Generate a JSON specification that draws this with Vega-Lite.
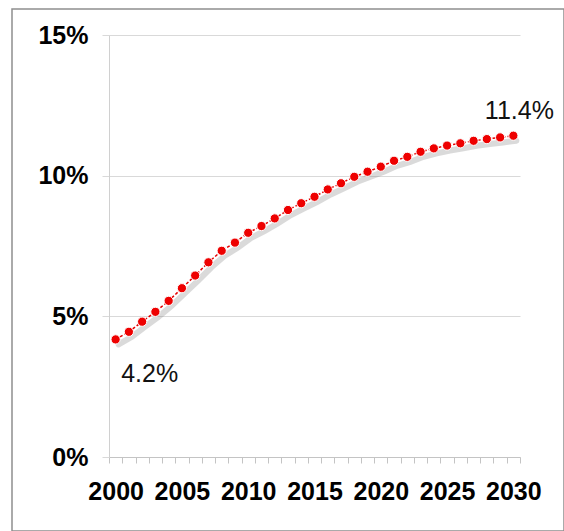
{
  "$schema": "https://vega.github.io/schema/vega-lite/v6.json",
  "width": 552,
  "height": 522,
  "autosize": {"type": "none"},
  "padding": {"left": 12, "top": 9, "right": 0, "bottom": 0},
  "background": "white",
  "config": {
    "view": {"stroke": "#8f8f8f", "strokeWidth": 1.5},
    "font": "Liberation Sans"
  },
  "data": {
    "values": [
      {"year": 2000, "value": 0.0418},
      {"year": 2001, "value": 0.0445},
      {"year": 2002, "value": 0.0481},
      {"year": 2003, "value": 0.0516},
      {"year": 2004, "value": 0.0555},
      {"year": 2005, "value": 0.0600},
      {"year": 2006, "value": 0.0645},
      {"year": 2007, "value": 0.0692},
      {"year": 2008, "value": 0.0733},
      {"year": 2009, "value": 0.0762},
      {"year": 2010, "value": 0.0797},
      {"year": 2011, "value": 0.0821},
      {"year": 2012, "value": 0.0848},
      {"year": 2013, "value": 0.0878},
      {"year": 2014, "value": 0.0902},
      {"year": 2015, "value": 0.0925},
      {"year": 2016, "value": 0.0951},
      {"year": 2017, "value": 0.0973},
      {"year": 2018, "value": 0.0996},
      {"year": 2019, "value": 0.1014},
      {"year": 2020, "value": 0.1032},
      {"year": 2021, "value": 0.1053},
      {"year": 2022, "value": 0.1067},
      {"year": 2023, "value": 0.1085},
      {"year": 2024, "value": 0.1097},
      {"year": 2025, "value": 0.1107},
      {"year": 2026, "value": 0.1115},
      {"year": 2027, "value": 0.1124},
      {"year": 2028, "value": 0.1130},
      {"year": 2029, "value": 0.1136},
      {"year": 2030, "value": 0.1142}
    ]
  },
  "encoding": {
    "x": {
      "field": "year",
      "type": "quantitative",
      "scale": {"domain": [1999.5, 2030.5], "range": [97, 508], "nice": false, "zero": false},
      "axis": {
        "title": null,
        "grid": false,
        "offset": -74,
        "values": [1999.5, 2000.5, 2001.5, 2002.5, 2003.5, 2004.5, 2005.5, 2006.5, 2007.5, 2008.5, 2009.5, 2010.5, 2011.5, 2012.5, 2013.5, 2014.5, 2015.5, 2016.5, 2017.5, 2018.5, 2019.5, 2020.5, 2021.5, 2022.5, 2023.5, 2024.5, 2025.5, 2026.5, 2027.5, 2028.5, 2029.5, 2030.5],
        "labelExpr": "(datum.value - 1999.5) % 5 == 0 ? format(datum.value + 0.5, 'd') : ''",
        "labelOffset": 6.63,
        "labelFlush": false,
        "labelOverlap": false,
        "labelFontSize": 25,
        "labelFontWeight": "bold",
        "labelColor": "#000000",
        "labelPadding": 16,
        "tickSize": 6,
        "tickColor": "#c4c4c4",
        "domainColor": "#c4c4c4"
      }
    },
    "y": {
      "field": "value",
      "type": "quantitative",
      "scale": {"domain": [0, 0.15], "range": [448, 26], "nice": false},
      "axis": {
        "title": null,
        "offset": -97,
        "values": [0, 0.05, 0.1, 0.15],
        "format": ".0%",
        "grid": true,
        "gridColor": "#d9d9d9",
        "tickSize": 7,
        "tickColor": "#d9d9d9",
        "domainColor": "#d0d0d0",
        "labelFontSize": 25,
        "labelFontWeight": "bold",
        "labelColor": "#000000",
        "labelPadding": 14
      }
    }
  },
  "layer": [
    {
      "mark": {"type": "line", "color": "#7a7a7a", "strokeWidth": 6, "opacity": 0.28, "strokeCap": "round"},
      "encoding": {"xOffset": {"value": 3}, "yOffset": {"value": 5}}
    },
    {
      "mark": {"type": "line", "color": "#e60000", "strokeWidth": 1.5, "strokeDash": [3, 2]},
      "encoding": {}
    },
    {
      "mark": {"type": "point", "filled": true, "fill": "#ee0000", "stroke": "#ffffff", "strokeWidth": 1, "size": 85, "opacity": 1},
      "encoding": {}
    },
    {
      "transform": [{"filter": "datum.year == 2000"}],
      "mark": {"type": "text", "align": "left", "baseline": "middle", "dx": 5.5, "dy": 35, "fontSize": 25, "color": "#111111"},
      "encoding": {"text": {"field": "value", "format": ".1%"}}
    },
    {
      "transform": [{"filter": "datum.year == 2030"}],
      "mark": {"type": "text", "align": "center", "baseline": "middle", "dx": 6, "dy": -25, "fontSize": 25, "color": "#111111"},
      "encoding": {"text": {"field": "value", "format": ".1%"}}
    }
  ]
}
